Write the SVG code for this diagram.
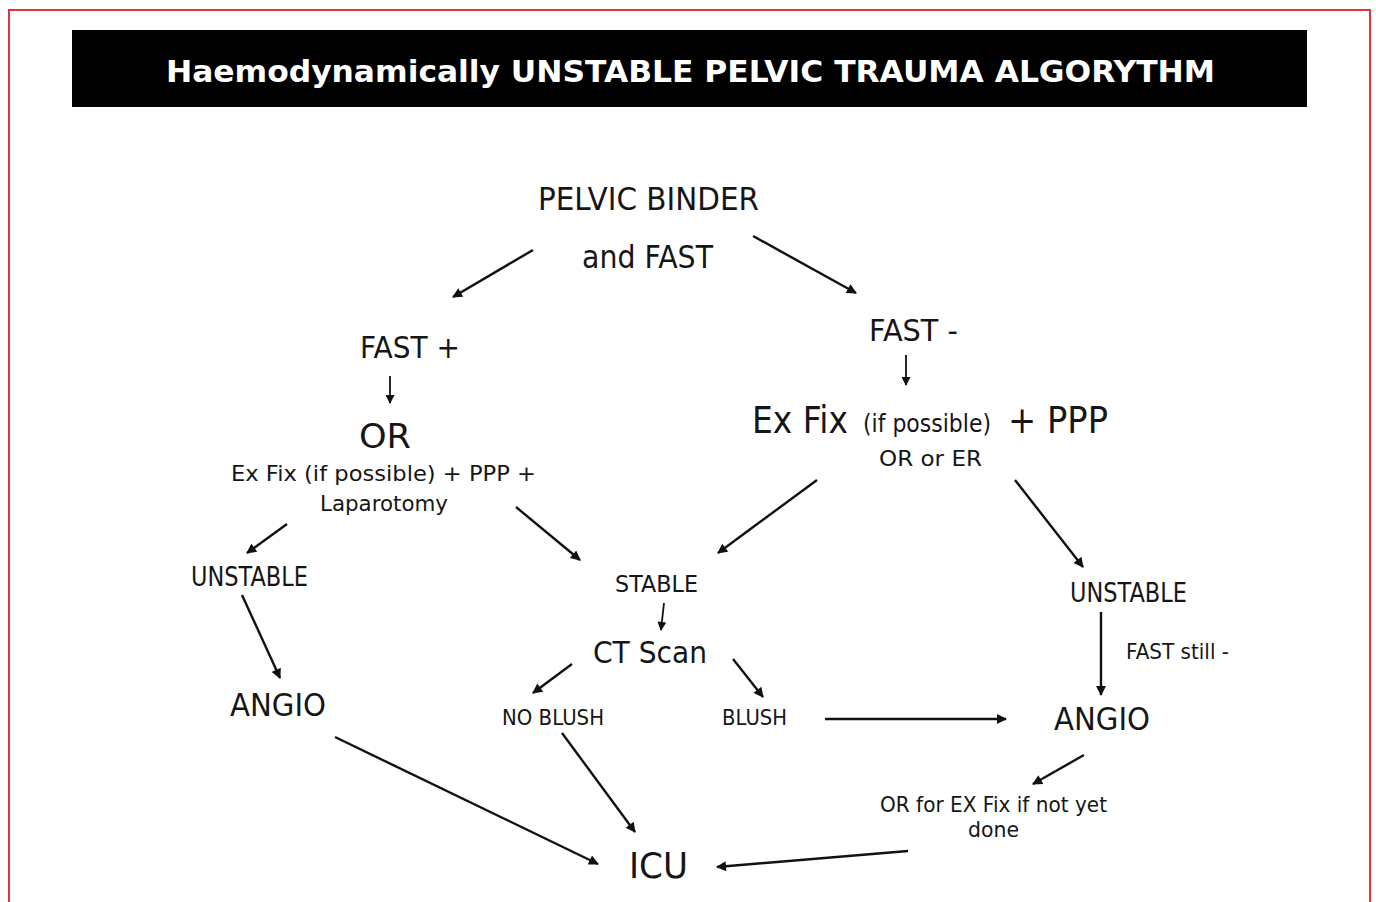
<svg xmlns="http://www.w3.org/2000/svg" width="1376" height="902" viewBox="0 0 1376 902">
<defs>
<style>
.t{font-family:"DejaVu Sans","Liberation Sans",sans-serif;fill:#161616;}
.title{font-family:"DejaVu Sans","Liberation Sans",sans-serif;font-weight:bold;fill:#ffffff;}
.c{stroke:#111;stroke-width:2.4;fill:none;marker-end:url(#ah);}
.cs{stroke:#111;stroke-width:1.8;fill:none;marker-end:url(#ahs);}
</style>
<marker id="ah" viewBox="0 0 10 10" refX="9" refY="5" markerWidth="12" markerHeight="10" markerUnits="userSpaceOnUse" orient="auto">
<path d="M0,0 L10,5 L0,10 z" fill="#111"/>
</marker>
<marker id="ahs" viewBox="0 0 10 10" refX="9" refY="5" markerWidth="10" markerHeight="9" markerUnits="userSpaceOnUse" orient="auto">
<path d="M0,0 L10,5 L0,10 z" fill="#111"/>
</marker>
</defs>
<rect x="0" y="0" width="1376" height="902" fill="#ffffff"/>
<path d="M9,905 L9,10 L1370,10 L1370,905" fill="none" stroke="#e2333a" stroke-width="2"/>

<g id="title">
<rect x="72" y="30" width="1235" height="77" fill="#000000"/>
<text class="title" x="166" y="82" font-size="31" textLength="1049" lengthAdjust="spacingAndGlyphs">Haemodynamically UNSTABLE PELVIC TRAUMA ALGORYTHM</text>
</g>

<g id="connectors">
<line class="c" x1="533" y1="250" x2="453" y2="297"/>
<line class="c" x1="753" y1="236" x2="856" y2="293"/>
<line class="cs" x1="390" y1="376" x2="390" y2="403"/>
<line class="cs" x1="906" y1="355" x2="906" y2="385"/>
<line class="c" x1="287" y1="524" x2="247" y2="553"/>
<line class="c" x1="516" y1="507" x2="580" y2="560"/>
<line class="c" x1="817" y1="480" x2="718" y2="553"/>
<line class="c" x1="1015" y1="480" x2="1083" y2="567"/>
<line class="c" x1="242" y1="595" x2="280" y2="678"/>
<line class="cs" x1="664" y1="603" x2="661" y2="630"/>
<line class="c" x1="572" y1="664" x2="533" y2="693"/>
<line class="c" x1="733" y1="659" x2="763" y2="697"/>
<line class="c" x1="1101" y1="612" x2="1101" y2="695"/>
<line class="c" x1="825" y1="719" x2="1006" y2="719"/>
<line class="c" x1="1084" y1="755" x2="1033" y2="784"/>
<line class="c" x1="335" y1="737" x2="598" y2="864"/>
<line class="c" x1="562" y1="733" x2="635" y2="832"/>
<line class="c" x1="908" y1="851" x2="717" y2="867"/>
</g>

<g id="node-binder">
<text class="t" x="538" y="210" font-size="31.5" textLength="221" lengthAdjust="spacingAndGlyphs">PELVIC BINDER</text>
<text class="t" x="582" y="268" font-size="31.5" textLength="131" lengthAdjust="spacingAndGlyphs">and FAST</text>
</g>

<g id="node-fast-pos">
<text class="t" x="360" y="358" font-size="30" textLength="100" lengthAdjust="spacingAndGlyphs">FAST +</text>
</g>

<g id="node-or">
<text class="t" x="359" y="448" font-size="34" textLength="52" lengthAdjust="spacingAndGlyphs">OR</text>
<text class="t" x="231" y="481" font-size="22" textLength="305" lengthAdjust="spacingAndGlyphs">Ex Fix (if possible) + PPP +</text>
<text class="t" x="320" y="511" font-size="22" textLength="128" lengthAdjust="spacingAndGlyphs">Laparotomy</text>
</g>

<g id="node-fast-neg">
<text class="t" x="869" y="341" font-size="30" textLength="89" lengthAdjust="spacingAndGlyphs">FAST -</text>
</g>

<g id="node-exfix">
<text class="t" x="752" y="433" font-size="37" textLength="96" lengthAdjust="spacingAndGlyphs">Ex Fix</text>
<text class="t" x="863" y="432" font-size="24" textLength="128" lengthAdjust="spacingAndGlyphs">(if possible)</text>
<text class="t" x="1008" y="433" font-size="37" textLength="100" lengthAdjust="spacingAndGlyphs">+ PPP</text>
<text class="t" x="879" y="466" font-size="22" textLength="103" lengthAdjust="spacingAndGlyphs">OR or ER</text>
</g>

<g id="node-unstable-left">
<text class="t" x="191" y="586" font-size="26" textLength="117" lengthAdjust="spacingAndGlyphs">UNSTABLE</text>
</g>

<g id="node-angio-left">
<text class="t" x="230" y="716" font-size="31.5" textLength="96" lengthAdjust="spacingAndGlyphs">ANGIO</text>
</g>

<g id="node-stable">
<text class="t" x="615" y="592" font-size="23" textLength="83" lengthAdjust="spacingAndGlyphs">STABLE</text>
</g>

<g id="node-ct">
<text class="t" x="593" y="663" font-size="31" textLength="114" lengthAdjust="spacingAndGlyphs">CT Scan</text>
</g>

<g id="node-noblush">
<text class="t" x="502" y="725" font-size="22" textLength="102" lengthAdjust="spacingAndGlyphs">NO BLUSH</text>
</g>

<g id="node-blush">
<text class="t" x="722" y="725" font-size="22" textLength="65" lengthAdjust="spacingAndGlyphs">BLUSH</text>
</g>

<g id="node-unstable-right">
<text class="t" x="1070" y="602" font-size="26" textLength="117" lengthAdjust="spacingAndGlyphs">UNSTABLE</text>
<text class="t" x="1126" y="659" font-size="22" textLength="103" lengthAdjust="spacingAndGlyphs">FAST still -</text>
</g>

<g id="node-angio-right">
<text class="t" x="1054" y="730" font-size="31.5" textLength="96" lengthAdjust="spacingAndGlyphs">ANGIO</text>
</g>

<g id="node-or-exfix">
<text class="t" x="880" y="812" font-size="22" textLength="227" lengthAdjust="spacingAndGlyphs">OR for EX Fix if not yet</text>
<text class="t" x="968" y="837" font-size="22" textLength="51" lengthAdjust="spacingAndGlyphs">done</text>
</g>

<g id="node-icu">
<text class="t" x="629" y="878" font-size="35" textLength="59" lengthAdjust="spacingAndGlyphs">ICU</text>
</g>
</svg>
